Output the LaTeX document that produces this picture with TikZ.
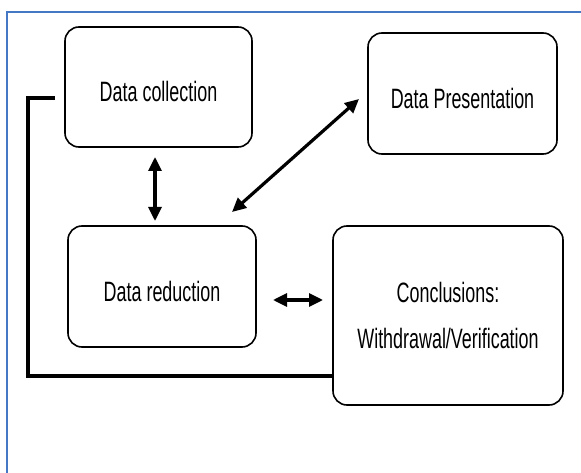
\documentclass[tikz,border=0pt]{standalone}
\usepackage{fontspec}
\newfontfamily\narrowsans{Liberation Sans}[FakeStretch=0.64]
\usetikzlibrary{arrows.meta}
\definecolor{frameblue}{RGB}{68,119,196}
\tikzset{
  box/.style={draw, line width=1.6pt, rounded corners=14pt, fill=white, inner sep=0pt,
    font=\narrowsans\fontsize{28}{46}\selectfont, align=center},
  lowtext/.style={text height=30pt, text depth=0pt},
  dbl/.style={line width=3.2pt, {Triangle[length=14pt,width=13pt]}-{Triangle[length=14pt,width=13pt]}},
  feedback/.style={line width=4pt}
}
\begin{document}
\begin{tikzpicture}[x=1pt,y=-1pt]
\useasboundingbox (0,0) rectangle (581,473);
\fill[white] (0,0) rectangle (581,473);
\draw[frameblue, line width=1.5pt] (7,473) -- (7,12) -- (581,12);
\node[box, lowtext, minimum width=187pt, minimum height=120pt] (dc) at (158.5,87) {Data collection};
\node[box, lowtext, minimum width=189pt, minimum height=121pt] (dp) at (462.5,93.5) {Data Presentation};
\node[box, lowtext, minimum width=188pt, minimum height=121pt] (dr) at (162,286.5) {Data reduction};
\node[box, minimum width=230pt, minimum height=179pt] (cv) at (448,315.5) {Conclusions:\\Withdrawal/Verification};
\coordinate (a1) at (155,157);
\coordinate (a2) at (155,221);
\coordinate (b1) at (232,212);
\coordinate (b2) at (359,99);
\coordinate (c1) at (273,300);
\coordinate (c2) at (323,300);
\coordinate (f1) at (55,98);
\coordinate (f2) at (28,98);
\coordinate (f3) at (28,376);
\draw[dbl] (a1) -- (a2);
\draw[dbl] (b1) -- (b2);
\draw[dbl] (c1) -- (c2);
\draw[feedback] (f1) -- (f2) -- (f3) -- (f3 -| cv.west);
\end{tikzpicture}
\end{document}
